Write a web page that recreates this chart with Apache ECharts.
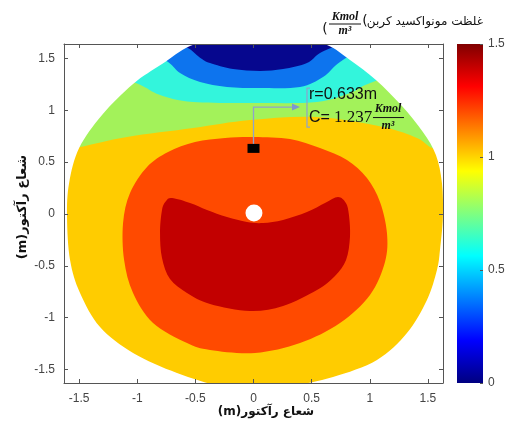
<!DOCTYPE html>
<html><head><meta charset="utf-8">
<script src="https://cdn.jsdelivr.net/npm/echarts@6/dist/echarts.min.js"></script>
<style>html,body{margin:0;padding:0;background:#fff}#c{width:509px;height:428px}</style>
</head><body><div id="c"></div>
<script>
// ---- data ----
const xRange = [-1.63, 1.63];
const yRange = [-1.63, 1.64];
const xTicks = [-1.5, -1, -0.5, 0, 0.5, 1, 1.5];
const yTicks = [-1.5, -1, -0.5, 0, 0.5, 1, 1.5];
const cbRange = [0, 1.5];
const cbTicks = [0, 0.5, 1, 1.5];

// reactor cross-section outline (clockwise); top and bottom run past the frame
const outline = [[-0.546,1.62],[-0.271,1.697],[0.039,1.726],[0.357,1.697],[0.632,1.63],[0.83,1.485],[1.053,1.292],[1.277,1.041],[1.457,0.791],[1.569,0.569],[1.621,0.299],[1.629,-0.029],[1.604,-0.347],[1.578,-0.54],[1.492,-0.829],[1.32,-1.148],[1.062,-1.408],[0.684,-1.572],[0.314,-1.659],[0.013,-1.688],[-0.288,-1.659],[-0.658,-1.533],[-1.036,-1.34],[-1.32,-1.09],[-1.492,-0.762],[-1.578,-0.444],[-1.604,-0.029],[-1.586,0.299],[-1.5,0.636],[-1.303,0.955],[-1.036,1.254],[-0.787,1.446]];

// contour boundaries (left -> right); the region above each takes its colour
const greenTop = [[-1.63,0.617],[-1.492,0.646],[-1.088,0.743],[-0.52,0.829],[-0.03,0.906],[0.546,0.935],[1.113,0.839],[1.406,0.733],[1.518,0.646],[1.63,0.598]];
const cyanTop = [[-1.63,1.485],[-1.036,1.273],[-0.804,1.148],[-0.52,1.08],[0.056,1.07],[0.546,1.08],[0.83,1.167],[1.027,1.273],[1.63,1.485]];
const blueTop = [[-0.976,1.64],[-0.735,1.466],[-0.632,1.36],[-0.46,1.273],[-0.228,1.225],[0.056,1.215],[0.4,1.225],[0.598,1.321],[0.744,1.466],[1.002,1.64]];
const navyTop = [[-0.675,1.64],[-0.56,1.6],[-0.45,1.5],[-0.374,1.456],[-0.176,1.398],[0.056,1.379],[0.254,1.398],[0.46,1.456],[0.572,1.553],[0.744,1.64]];
// closed contours
const orangeBlob = [[0.004,0.743],[0.314,0.723],[0.572,0.636],[0.804,0.521],[0.976,0.347],[1.088,0.116],[1.148,-0.183],[1.131,-0.463],[1.002,-0.781],[0.744,-1.051],[0.4,-1.244],[0.013,-1.34],[-0.374,-1.311],[-0.572,-1.244],[-0.864,-1.051],[-1.036,-0.762],[-1.113,-0.444],[-1.122,-0.087],[-1.062,0.203],[-0.916,0.453],[-0.735,0.598],[-0.503,0.694],[-0.245,0.733]];
const redCrescent = [[-0.701,0.154],[-0.546,0.106],[-0.4,0.039],[-0.228,-0.029],[-0.056,-0.077],[0.082,-0.087],[0.254,-0.058],[0.46,0.019],[0.615,0.106],[0.727,0.164],[0.795,0.106],[0.821,-0.01],[0.83,-0.222],[0.796,-0.444],[0.701,-0.598],[0.546,-0.733],[0.254,-0.887],[-0.03,-0.935],[-0.374,-0.868],[-0.572,-0.762],[-0.718,-0.627],[-0.787,-0.424],[-0.804,-0.183],[-0.787,0.039],[-0.752,0.125]];
const holeCenter = [0.004, 0.01];
const holeRadius = 0.077;
const probePoint = [0, 0.633];
const probeLabelR = 'r=0.633m';
const probeLabelC = '1.237';

const colYellow = '#ffcc00', colGreen = '#a3f25a', colCyan = '#33f5dc', colBlue = '#0d74ee',
      colNavy = '#06078e', colOrange = '#ff4a00', colDarkRed = '#c20000';

const regions = [
  {kind:'rect', color: colYellow},
  {kind:'cap', pts: greenTop, color: colGreen},
  {kind:'cap', pts: cyanTop, color: colCyan},
  {kind:'cap', pts: blueTop, color: colBlue},
  {kind:'cap', pts: navyTop, color: colNavy},
  {kind:'closed', pts: orangeBlob, color: colOrange},
  {kind:'closed', pts: redCrescent, color: colDarkRed},
  {kind:'hole'},
  {kind:'mask'}
];

function f(n){return n.toFixed(2);}
function crPath(pts, closed){
  const n = pts.length;
  const g = i => closed ? pts[(i+n)%n] : pts[Math.max(0, Math.min(n-1, i))];
  let d = 'M' + f(pts[0][0]) + ',' + f(pts[0][1]);
  const segs = closed ? n : n-1;
  for (let i=0;i<segs;i++){
    const p0=g(i-1), p1=g(i), p2=g(i+1), p3=g(i+2);
    const c1=[p1[0]+(p2[0]-p0[0])/6, p1[1]+(p2[1]-p0[1])/6];
    const c2=[p2[0]-(p3[0]-p1[0])/6, p2[1]-(p3[1]-p1[1])/6];
    d += ' C'+f(c1[0])+','+f(c1[1])+' '+f(c2[0])+','+f(c2[1])+' '+f(p2[0])+','+f(p2[1]);
  }
  if (closed) d += ' Z';
  return d;
}

function renderRegion(params, api){
  const r = regions[params.dataIndex];
  const tl = api.coord([xRange[0], yRange[1]]);
  const br = api.coord([xRange[1], yRange[0]]);
  if (r.kind === 'rect'){
    return {type:'rect', z2:params.dataIndex, shape:{x:tl[0], y:tl[1], width:br[0]-tl[0], height:br[1]-tl[1]}, style:{fill:r.color}};
  }
  if (r.kind === 'cap'){
    const px = r.pts.map(p => api.coord(p));
    const first = r.pts[0], last = r.pts[r.pts.length-1];
    const a = api.coord([last[0], yRange[1]]), b = api.coord([first[0], yRange[1]]);
    const d = crPath(px, false) + ' L'+f(a[0])+','+f(a[1])+' L'+f(b[0])+','+f(b[1])+' Z';
    return {type:'path', z2:params.dataIndex, shape:{pathData:d}, style:{fill:r.color}};
  }
  if (r.kind === 'closed'){
    const px = r.pts.map(p => api.coord(p));
    return {type:'path', z2:params.dataIndex, shape:{pathData:crPath(px, true)}, style:{fill:r.color}};
  }
  if (r.kind === 'hole'){
    const c = api.coord(holeCenter);
    const s = api.size([holeRadius, holeRadius]);
    return {type:'circle', z2:params.dataIndex, shape:{cx:c[0], cy:c[1], r:(s[0]+s[1])/2}, style:{fill:'#ffffff'}};
  }
  // white mask outside the outline, inside the plot box
  const px = outline.slice().reverse().map(p => api.coord(p));
  const d = 'M'+f(tl[0])+','+f(tl[1])+' L'+f(br[0])+','+f(tl[1])+' L'+f(br[0])+','+f(br[1])+' L'+f(tl[0])+','+f(br[1])+' Z '+crPath(px, true);
  return {type:'path', z2:params.dataIndex, shape:{pathData:d}, style:{fill:'#ffffff'}};
}

function renderAnnot(params, api){
  const p = api.coord(probePoint);
  const elbow = api.coord([probePoint[0], 1.032]);
  const tip = api.coord([0.4, 1.032]);
  const a = api.coord([0.46, 1.215]);
  const b = api.coord([0.46, 0.839]);
  const lc = '#8ea3cc';
  return {type:'group', children:[
    {type:'polyline', shape:{points:[[p[0],p[1]],[elbow[0],elbow[1]],[tip[0]-6,tip[1]]]}, style:{stroke:lc, lineWidth:1.3, fill:null}},
    {type:'polygon', shape:{points:[[tip[0],tip[1]],[tip[0]-8,tip[1]-3.5],[tip[0]-8,tip[1]+3.5]]}, style:{fill:'#7f97cf'}},
    {type:'rect', shape:{x:p[0]-6, y:p[1]-4.5, width:12, height:9}, style:{fill:'#000'}},
    {type:'polyline', shape:{points:[[a[0]+3,a[1]],[a[0],a[1]],[b[0],b[1]],[b[0]+3,b[1]]]}, style:{stroke:lc, lineWidth:1.2, fill:null}},
    {type:'text', x:a[0]+2, y:a[1]+6.5, style:{text:probeLabelR, font:'16px "Liberation Sans"', fill:'#111', verticalAlign:'middle', align:'left'}},
    {type:'text', x:a[0]+2, y:a[1]+29.5, style:{text:'C=', font:'16px "Liberation Sans"', fill:'#111', verticalAlign:'middle', align:'left'}},
    {type:'text', x:a[0]+27, y:a[1]+29.5, style:{text:probeLabelC, font:'17px "Liberation Serif"', fill:'#111', verticalAlign:'middle', align:'left'}},
    {type:'text', x:a[0]+81, y:a[1]+21, style:{text:'Kmol', font:'italic bold 12px "Liberation Serif"', fill:'#111', verticalAlign:'middle', align:'center'}},
    {type:'line', shape:{x1:a[0]+66, y1:a[1]+29.5, x2:a[0]+97, y2:a[1]+29.5}, style:{stroke:'#111', lineWidth:1}},
    {type:'text', x:a[0]+81, y:a[1]+38, style:{text:'m³', font:'italic bold 12px "Liberation Serif"', fill:'#111', verticalAlign:'middle', align:'center'}}
  ]};
}

const chart = echarts.init(document.getElementById('c'), null, {renderer:'canvas'});
const axisCol = '#555';
const lblStyle = {color:'#444', fontSize:12, fontFamily:'Liberation Sans'};
const jet = [
  {offset:0, color:'#000080'},{offset:0.125, color:'#0000ff'},{offset:0.375, color:'#00ffff'},
  {offset:0.625, color:'#ffff00'},{offset:0.875, color:'#ff0000'},{offset:1, color:'#800000'}
];
chart.setOption({
  animation:false,
  backgroundColor:'#fff',
  grid:[
    {left:64, top:44, width:379, height:339},
    {left:457, top:44, width:26, height:339}
  ],
  xAxis:[
    {type:'value', gridIndex:0, min:xRange[0], max:xRange[1], z:5,
      axisLine:{onZero:false, lineStyle:{color:axisCol}}, splitLine:{show:false},
      axisTick:{inside:true, length:4, customValues:xTicks, lineStyle:{color:axisCol}},
      axisLabel:{customValues:xTicks, margin:10, ...lblStyle}},
    {type:'value', gridIndex:0, position:'top', min:xRange[0], max:xRange[1], z:5,
      axisLine:{onZero:false, lineStyle:{color:axisCol}}, splitLine:{show:false},
      axisTick:{inside:true, length:4, customValues:xTicks, lineStyle:{color:axisCol}},
      axisLabel:{show:false}},
    {type:'category', gridIndex:1, data:['c'], show:false}
  ],
  yAxis:[
    {type:'value', gridIndex:0, min:yRange[0], max:yRange[1], z:5,
      axisLine:{show:true, onZero:false, lineStyle:{color:axisCol}}, splitLine:{show:false},
      axisTick:{show:true, inside:true, length:4, customValues:yTicks, lineStyle:{color:axisCol}},
      axisLabel:{customValues:yTicks, margin:9, ...lblStyle}},
    {type:'value', gridIndex:0, position:'right', min:yRange[0], max:yRange[1], z:5,
      axisLine:{show:true, onZero:false, lineStyle:{color:axisCol}}, splitLine:{show:false},
      axisTick:{show:true, inside:true, length:4, customValues:yTicks, lineStyle:{color:axisCol}},
      axisLabel:{show:false}},
    {type:'value', gridIndex:1, position:'right', min:cbRange[0], max:cbRange[1], interval:0.5, z:5,
      axisLine:{show:false}, splitLine:{show:false},
      axisTick:{show:true, inside:true, length:3, lineStyle:{color:axisCol}},
      axisLabel:{margin:5, padding:[5,0,0,0], ...lblStyle}}
  ],
  series:[
    {type:'custom', xAxisIndex:0, yAxisIndex:0, renderItem:renderRegion, data:regions.map(()=>[0,0]), silent:true, z:2},
    {type:'custom', xAxisIndex:0, yAxisIndex:0, renderItem:renderAnnot, data:[[0,0]], silent:true, z:6},
    {type:'bar', xAxisIndex:2, yAxisIndex:2, data:[cbRange[1]], barWidth:'100%', silent:true,
      itemStyle:{color:{type:'linear', x:0, y:1, x2:0, y2:0, colorStops:jet}}}
  ],
  graphic:[
    {type:'text', x:483, y:22, style:{text:'غلظت مونواکسید کربن', font:'12px "DejaVu Sans"', fill:'#111', align:'right', verticalAlign:'middle'}},
    {type:'text', x:365, y:21, style:{text:'(', font:'14px "DejaVu Sans"', fill:'#111', align:'center', verticalAlign:'middle'}},
    {type:'text', x:345, y:16.5, style:{text:'Kmol', font:'italic bold 12px "Liberation Serif"', fill:'#111', align:'center', verticalAlign:'middle'}},
    {type:'line', shape:{x1:329, y1:24, x2:361, y2:24}, style:{stroke:'#111', lineWidth:1}},
    {type:'text', x:345, y:31, style:{text:'m³', font:'italic bold 12px "Liberation Serif"', fill:'#111', align:'center', verticalAlign:'middle'}},
    {type:'text', x:325, y:29, style:{text:'(', font:'14px "DejaVu Sans"', fill:'#111', align:'center', verticalAlign:'middle'}},
    {type:'text', x:266, y:412, style:{text:'(m)شعاع رآکتور', font:'bold 12px "DejaVu Sans"', fill:'#111', align:'center', verticalAlign:'middle'}},
    {type:'text', x:23, y:207, rotation:Math.PI/2, style:{text:'(m)شعاع رآکتور', font:'bold 13px "DejaVu Sans"', fill:'#111', align:'center', verticalAlign:'middle'}}
  ]
});
</script>
</body></html>
